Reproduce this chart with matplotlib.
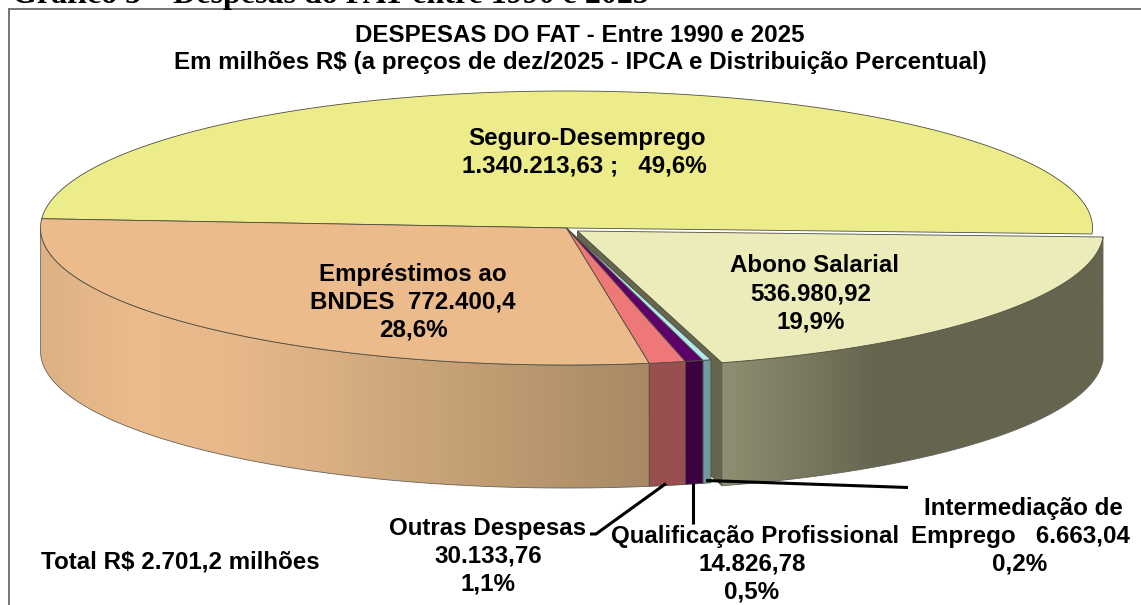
import numpy as np
import matplotlib
matplotlib.use("Agg")
import matplotlib.pyplot as plt
from matplotlib.patches import Polygon
from matplotlib.colors import LinearSegmentedColormap

categories = ["Seguro-Desemprego", "Empréstimos ao BNDES", "Outras Despesas",
              "Qualificação Profissional", "Intermediação de Emprego", "Abono Salarial"]
values = [1340213.63, 772400.4, 30133.76, 14826.78, 6663.04, 536980.92]
top_colors = ["#EDEC8B", "#ECBB8C", "#EE7777", "#5E006A", "#B4E8F0", "#ECECBB"]
wall_colors = ["#6B6B3A", "#C9A077", "#994F4F", "#3D0040", "#6F9A9F", "#66664F"]

W, H = 1141, 605
CX, CY, RX, RY, DEPTH = 566.5, 228.0, 526.0, 137.0, 123.0
START = -2.5
EXPLODE = (11.0, 3.0)

fig = plt.figure(figsize=(W / 100, H / 100), dpi=100, facecolor="white")
ax = fig.add_axes([0, 0, 1, 1])
ax.set_axis_off()

fracs = np.array(values) / np.sum(values)
edges = START + np.concatenate([[0], np.cumsum(fracs)]) * 360


def rim(a, b, off=(0, 0), n=300):
    t = np.radians(np.linspace(a, b, n))
    return np.column_stack([CX + off[0] + RX * np.cos(t), CY + off[1] - RY * np.sin(t)])


def wall_poly(a, b, off=(0, 0)):
    a2, b2 = max(a, 180), min(b, 360)
    r = rim(a2, b2, off)
    low = r[::-1] + [0, DEPTH]
    return np.vstack([r, low])


def top_poly(a, b, off=(0, 0)):
    c = np.array([[CX + off[0], CY + off[1]]])
    return np.vstack([c, rim(a, b, off)])


def cut_poly(angle, off=(0, 0)):
    c = np.array([CX + off[0], CY + off[1]])
    p = rim(angle, angle, off, 1)[0]
    return np.array([c, p, p + [0, DEPTH], c + [0, DEPTH]])


def gradient(poly, stops):
    xs = poly[:, 0]
    x0, x1 = xs.min(), xs.max()
    pos = np.clip([(x - x0) / (x1 - x0) for x, _ in stops], 0, 1)
    pos[0], pos[-1] = 0.0, 1.0
    cmap = LinearSegmentedColormap.from_list("g", list(zip(pos, [c for _, c in stops])))
    im = ax.imshow(np.linspace(0, 1, 512).reshape(1, -1), cmap=cmap, aspect="auto",
                   extent=[x0, x1, poly[:, 1].max(), poly[:, 1].min()], zorder=2)
    patch = Polygon(poly, closed=True, fc="none", ec="none", transform=ax.transData)
    ax.add_patch(patch)
    im.set_clip_path(patch)
    ax.add_patch(Polygon(poly, closed=True, fc="none", ec="#66625C", lw=0.6, zorder=2.1))


line = dict(closed=True, ec="#4F4F40", lw=0.6)

# cut faces and walls, back to front
ax.add_patch(Polygon(cut_poly(edges[1]), fc=wall_colors[0], zorder=1, **line))
ax.add_patch(Polygon(cut_poly(edges[5], EXPLODE), fc=wall_colors[5], zorder=1.5, **line))

gradient(wall_poly(edges[5], edges[6], EXPLODE),
         [(719, "#8F8F72"), (780, "#7F7F66"), (880, "#65654F"), (1105, "#65654F")])
gradient(wall_poly(edges[1], edges[2]),
         [(40, "#DDB185"), (130, "#EBBB8C"), (230, "#E7B88A"), (330, "#D9AF83"), (650, "#A88963")])
for i in (2, 3, 4):
    ax.add_patch(Polygon(wall_poly(edges[i], edges[i + 1]), fc=wall_colors[i], zorder=2.5, **line))

# top faces
for i in (0, 1, 2, 3, 4):
    ax.add_patch(Polygon(top_poly(edges[i], edges[i + 1]), fc=top_colors[i], zorder=3, **line))
ax.add_patch(Polygon(top_poly(edges[5], edges[6], EXPLODE), fc=top_colors[5], zorder=3.5, **line))

# frame (left and top edges of the chart area)
ax.plot([9, 9, W + 2], [H + 2, 9, 9], color="#757575", lw=1.4, zorder=1,
        solid_joinstyle="miter")

# leader lines
leader_kw = dict(color="black", lw=2.2, zorder=5, solid_capstyle="butt")
ax.plot([590, 596, 666], [534, 534, 483.5], **leader_kw)
ax.plot([693, 693], [483, 524], **leader_kw)
ax.plot([706, 908], [480.5, 487.5], **leader_kw)

ax.set_xlim(0, W)
ax.set_ylim(H, 0)

FS = 17.4
sans = dict(family="Liberation Sans", fontweight="bold", color="black", zorder=6,
            ha="center", va="center", fontsize=FS, linespacing=1.0)


def lines(x, ys, rows, xs=None):
    for k, (y, s) in enumerate(zip(ys, rows)):
        ax.text(xs[k] if xs else x, y, s, **sans)


ax.text(12, 3, "Gráfico 5 – Despesas do FAT entre 1990 e 2025", family="Liberation Serif",
        fontweight="bold", fontsize=23, ha="left", va="baseline", color="black", zorder=6)
lines(580, [36, 63], ["DESPESAS DO FAT - Entre 1990 e 2025",
                      "Em milhões R$ (a preços de dez/2025 - IPCA e Distribuição Percentual)"])
lines(587, [138, 166], ["Seguro-Desemprego", "1.340.213,63 ;   49,6%"], xs=[587, 584])
lines(413, [274, 302, 330], ["Empréstimos ao", "BNDES  772.400,4", "28,6%"])
lines(812, [266, 294, 322], ["Abono Salarial", "536.980,92", "19,9%"], xs=[814, 811, 811])
lines(488, [528, 556, 584], ["Outras Despesas", "30.133,76", "1,1%"])
lines(752, [536, 564, 592], ["Qualificação Profissional", "14.826,78", "0,5%"], xs=[755, 752, 752])
lines(1020, [508, 536, 564], ["Intermediação de", "Emprego   6.663,04", "0,2%"], xs=[1023, 1020, 1020])
ax.text(41, 562, "Total R$ 2.701,2 milhões", **{**sans, "ha": "left"})

fig.savefig("out.png", dpi=100, facecolor="white")
